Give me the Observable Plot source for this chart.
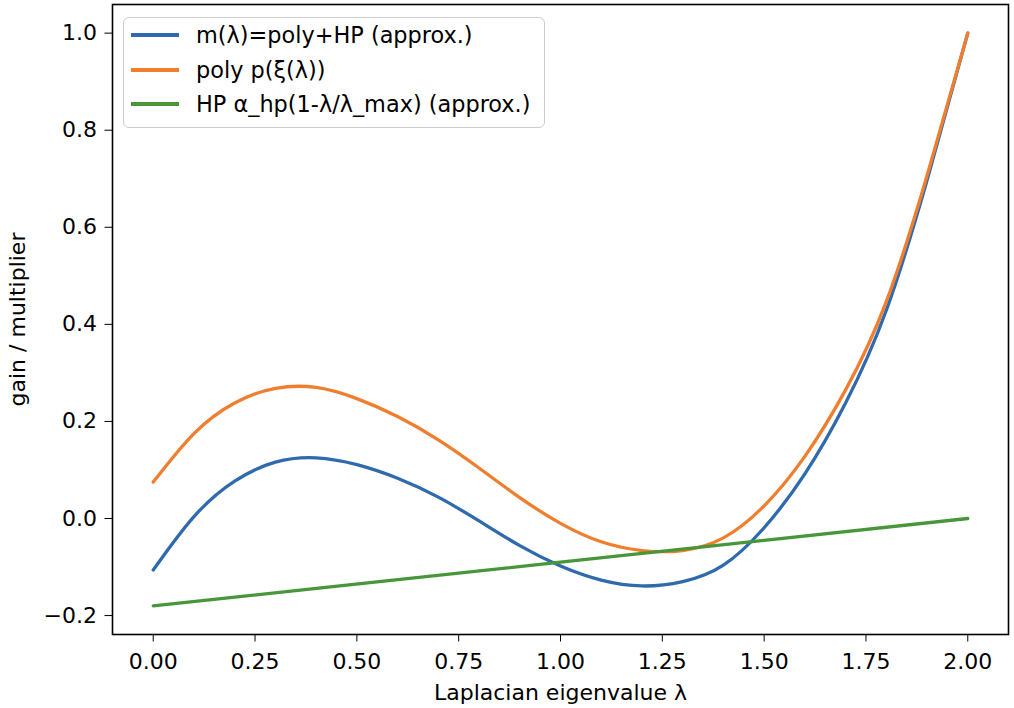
<!DOCTYPE html>
<html>
<head>
<meta charset="utf-8">
<script src="https://cdn.jsdelivr.net/npm/d3@7"></script>
<script src="https://cdn.jsdelivr.net/npm/@observablehq/plot@0.6"></script>
<style>
  html, body { margin: 0; padding: 0; background: #fff; }
  #wrap { position: relative; width: 1014px; height: 708px; font-family: "DejaVu Sans", sans-serif; }
  #legend {
    position: absolute; left: 123px; top: 17px; width: 422px; height: 111px;
    border: 1.8px solid #cccccc; border-radius: 6px; background: rgba(255,255,255,0.8);
    box-sizing: border-box; font-size: 22.4px; color: #000;
  }
  .row { position: absolute; left: 7px; height: 26px; display: flex; align-items: center; white-space: nowrap; }
  .sw { width: 48px; height: 3.3px; margin-right: 17px; }
</style>
</head>
<body>
<div id="wrap"></div>
<script>
// Values at λ = 0, 0.1, …, 2.0
const lam = [0.0, 0.1, 0.2, 0.3, 0.4, 0.5, 0.6, 0.7, 0.8, 0.9, 1.0, 1.1, 1.2, 1.3, 1.4, 1.5, 1.6, 1.7, 1.8, 1.9, 2.0];
const mVals    = [-0.106, 0.004, 0.077, 0.116, 0.125, 0.111, 0.083, 0.044, -0.005, -0.056, -0.098, -0.127, -0.139, -0.130, -0.096, -0.019, 0.092, 0.238, 0.429, 0.697, 1.0];
const polyVals = [0.075, 0.175, 0.238, 0.268, 0.270, 0.247, 0.210, 0.162, 0.104, 0.043, -0.010, -0.048, -0.066, -0.066, -0.040, 0.026, 0.128, 0.265, 0.447, 0.706, 1.0];
const lamHP = [0.0, 1.0, 2.0];
const hpVals = [-0.18, -0.09, 0.0];

const seriesNames = ["m(λ)=poly+HP (approx.)", "poly p(ξ(λ))", "HP α_hp(1-λ/λ_max) (approx.)"];
const seriesColors = ["#2f6aad", "#ef7f2e", "#47973a"];

const xTicks = [0, 0.25, 0.5, 0.75, 1.0, 1.25, 1.5, 1.75, 2.0];
const yTicks = [-0.2, 0, 0.2, 0.4, 0.6, 0.8, 1.0];

const rows = [];
lam.forEach((l, i) => rows.push({lam: l, v: mVals[i], s: seriesNames[0]}));
lam.forEach((l, i) => rows.push({lam: l, v: polyVals[i], s: seriesNames[1]}));
lamHP.forEach((l, i) => rows.push({lam: l, v: hpVals[i], s: seriesNames[2]}));

const chart = Plot.plot({
  width: 1014,
  height: 708,
  marginLeft: 112,
  marginRight: 6,
  marginTop: 4,
  marginBottom: 74,
  style: { fontFamily: "DejaVu Sans, sans-serif", fontSize: "22px", color: "#000", background: "#fff" },
  x: { domain: [-0.1, 2.1], ticks: xTicks, tickFormat: d3.format(".2f"), tickSize: 7.5, tickPadding: 11,
       label: "Laplacian eigenvalue λ", labelAnchor: "center", labelArrow: "none", labelOffset: 65 },
  y: { domain: [-0.239, 1.059], ticks: yTicks, tickFormat: d3.format(".1f"), tickSize: 7.5, tickPadding: 8,
       label: "gain / multiplier", labelAnchor: "center", labelArrow: "none", labelOffset: 103 },
  color: { domain: seriesNames, range: seriesColors },
  marks: [
    Plot.line(rows, { x: "lam", y: "v", z: "s", stroke: "s", strokeWidth: 3.3, curve: "natural" }),
    Plot.frame({ stroke: "#000", strokeWidth: 1.6 })
  ]
});

const wrap = document.getElementById("wrap");
wrap.appendChild(chart);

const legend = document.createElement("div");
legend.id = "legend";
const tops = [4, 39, 73];
seriesNames.forEach((n, i) => {
  const r = document.createElement("div");
  r.className = "row";
  r.style.top = tops[i] + "px";
  const sw = document.createElement("div");
  sw.className = "sw";
  sw.style.background = seriesColors[i];
  const t = document.createElement("span");
  t.textContent = n;
  r.appendChild(sw); r.appendChild(t);
  legend.appendChild(r);
});
wrap.appendChild(legend);
</script>
</body>
</html>
